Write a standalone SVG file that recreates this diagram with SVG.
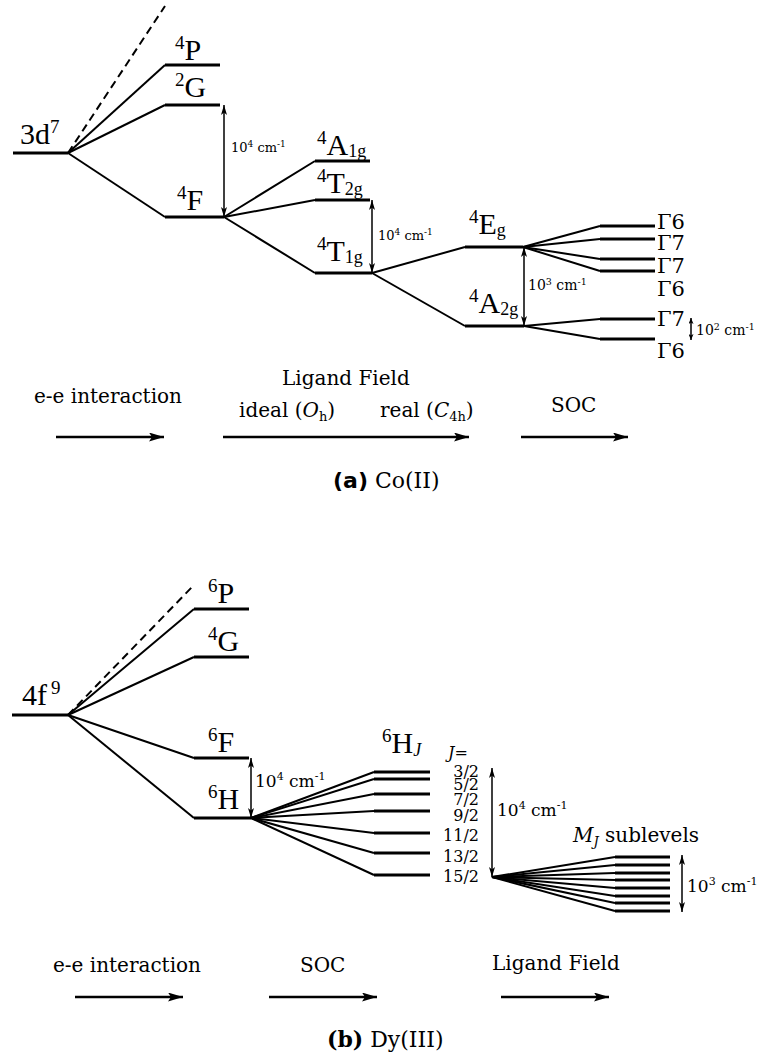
<svg xmlns="http://www.w3.org/2000/svg" width="757" height="1056" viewBox="0 0 757 1056">
<defs>
<style>
.lv{stroke:#000;stroke-width:3;fill:none}
.cn{stroke:#000;stroke-width:2;fill:none}
.ds{stroke-dasharray:8 5}
.ar{stroke:#000;stroke-width:1.5;fill:none;marker-start:url(#ah);marker-end:url(#ah)}
.ars{stroke:#000;stroke-width:1.5;fill:none;marker-start:url(#as);marker-end:url(#as)}
.pa{stroke:#000;stroke-width:2.5;fill:none;marker-end:url(#bh)}
.big{font-family:"Liberation Serif","Times New Roman",serif;font-size:30px;fill:#000}
.sm{font-family:"DejaVu Serif",serif;fill:#000}
.it{font-style:italic}
</style>
<marker id="ah" viewBox="0 0 10 6" refX="10" refY="3" markerWidth="10" markerHeight="6" orient="auto-start-reverse" markerUnits="userSpaceOnUse"><path d="M0,0 L10,3 L0,6 L2.5,3 Z" fill="#000"/></marker>
<marker id="as" viewBox="0 0 6 5" refX="6" refY="2.5" markerWidth="6" markerHeight="5" orient="auto-start-reverse" markerUnits="userSpaceOnUse"><path d="M0,0 L6,2.5 L0,5 L1.5,2.5 Z" fill="#000"/></marker>
<marker id="bh" viewBox="0 0 15 9" refX="15" refY="4.5" markerWidth="15" markerHeight="9" orient="auto" markerUnits="userSpaceOnUse"><path d="M0,0 L15,4.5 L0,9 L3,4.5 Z" fill="#000"/></marker>
</defs>
<rect width="757" height="1056" fill="#fff"/>

<!-- ===== (a) Co(II) ===== -->
<g id="connectors-a">
<line class="cn ds" x1="68" y1="153" x2="165" y2="6"/>
<line class="cn" x1="68" y1="153" x2="165" y2="65"/>
<line class="cn" x1="68" y1="153" x2="165" y2="105"/>
<line class="cn" x1="68" y1="153" x2="165" y2="217"/>
<line class="cn" x1="224" y1="217" x2="315" y2="161"/>
<line class="cn" x1="224" y1="217" x2="315" y2="200"/>
<line class="cn" x1="224" y1="217" x2="315" y2="273"/>
<line class="cn" x1="372" y1="273" x2="465" y2="247"/>
<line class="cn" x1="372" y1="273" x2="465" y2="326"/>
<line class="cn" x1="523" y1="247" x2="600" y2="226"/>
<line class="cn" x1="523" y1="247" x2="600" y2="239"/>
<line class="cn" x1="523" y1="247" x2="600" y2="259"/>
<line class="cn" x1="523" y1="247" x2="600" y2="271"/>
<line class="cn" x1="524" y1="326" x2="600" y2="319"/>
<line class="cn" x1="524" y1="326" x2="600" y2="339"/>
<line class="ar" x1="224" y1="105" x2="224" y2="217"/>
<line class="ar" x1="372" y1="200" x2="372" y2="273"/>
<line class="ar" x1="524" y1="247" x2="524" y2="326"/>
<line class="ars" x1="691" y1="318" x2="691" y2="340"/>
<line class="pa" x1="56" y1="437" x2="164" y2="437"/>
<line class="pa" x1="223" y1="437" x2="469" y2="437"/>
<line class="pa" x1="521" y1="437" x2="628" y2="437"/>
</g>

<g id="n-3d7"><line class="lv" x1="13" y1="153" x2="68" y2="153"/><text class="big" x="20" y="144">3d<tspan font-size="19" dy="-11">7</tspan></text></g>
<g id="n-4P"><line class="lv" x1="165" y1="65" x2="220" y2="65"/><text class="big" x="175" y="60"><tspan font-size="19" dy="-11">4</tspan><tspan dy="11">P</tspan></text></g>
<g id="n-2G"><line class="lv" x1="165" y1="105" x2="220" y2="105"/><text class="big" x="175" y="97"><tspan font-size="19" dy="-11">2</tspan><tspan dy="11">G</tspan></text></g>
<g id="n-4F"><line class="lv" x1="165" y1="217" x2="224" y2="217"/><text class="big" x="177" y="210"><tspan font-size="19" dy="-11">4</tspan><tspan dy="11">F</tspan></text>
<text class="sm" x="231" y="152" font-size="13">10<tspan font-size="9" dy="-5">4</tspan><tspan dy="5"> cm</tspan><tspan font-size="9" dy="-5">-1</tspan></text></g>
<g id="n-4A1g"><line class="lv" x1="315" y1="161" x2="370" y2="161"/><text class="big" x="317" y="155"><tspan font-size="19" dy="-11">4</tspan><tspan dy="11">A</tspan><tspan font-size="18" dy="2">1g</tspan></text></g>
<g id="n-4T2g"><line class="lv" x1="315" y1="200" x2="370" y2="200"/><text class="big" x="317" y="193"><tspan font-size="19" dy="-11">4</tspan><tspan dy="11">T</tspan><tspan font-size="18" dy="2">2g</tspan></text></g>
<g id="n-4T1g"><line class="lv" x1="315" y1="273" x2="372" y2="273"/><text class="big" x="317" y="261"><tspan font-size="19" dy="-11">4</tspan><tspan dy="11">T</tspan><tspan font-size="18" dy="2">1g</tspan></text>
<text class="sm" x="378" y="240" font-size="13">10<tspan font-size="9" dy="-5">4</tspan><tspan dy="5"> cm</tspan><tspan font-size="9" dy="-5">-1</tspan></text></g>
<g id="n-4Eg"><line class="lv" x1="465" y1="247" x2="523" y2="247"/><text class="big" x="469" y="234"><tspan font-size="19" dy="-11">4</tspan><tspan dy="11">E</tspan><tspan font-size="18" dy="2">g</tspan></text>
<text class="sm" x="528" y="290" font-size="14">10<tspan font-size="9.5" dy="-5">3</tspan><tspan dy="5"> cm</tspan><tspan font-size="9.5" dy="-5">-1</tspan></text></g>
<g id="n-4A2g"><line class="lv" x1="465" y1="326" x2="524" y2="326"/><text class="big" x="469" y="313"><tspan font-size="19" dy="-11">4</tspan><tspan dy="11">A</tspan><tspan font-size="18" dy="2">2g</tspan></text></g>
<g id="n-G6a"><line class="lv" x1="600" y1="226" x2="655" y2="226"/><text class="sm" x="657" y="229" font-size="21">Γ6</text></g>
<g id="n-G7a"><line class="lv" x1="600" y1="239" x2="655" y2="239"/><text class="sm" x="657" y="250" font-size="21">Γ7</text></g>
<g id="n-G7b"><line class="lv" x1="600" y1="259" x2="655" y2="259"/><text class="sm" x="657" y="273" font-size="21">Γ7</text></g>
<g id="n-G6b"><line class="lv" x1="600" y1="271" x2="655" y2="271"/><text class="sm" x="657" y="296" font-size="21">Γ6</text></g>
<g id="n-G7c"><line class="lv" x1="600" y1="319" x2="655" y2="319"/><text class="sm" x="657" y="326" font-size="21">Γ7</text>
<text class="sm" x="696" y="335" font-size="14">10<tspan font-size="9.5" dy="-5">2</tspan><tspan dy="5"> cm</tspan><tspan font-size="9.5" dy="-5">-1</tspan></text></g>
<g id="n-G6c"><line class="lv" x1="600" y1="339" x2="655" y2="339"/><text class="sm" x="657" y="358" font-size="21">Γ6</text></g>

<g id="labels-a" class="sm" font-size="20">
<text class="sm" x="34" y="403">e-e interaction</text>
<text class="sm" x="282" y="385">Ligand Field</text>
<text class="sm" x="239" y="417">ideal (<tspan class="it">O</tspan><tspan font-size="13" dy="4">h</tspan><tspan dy="-4">)</tspan></text>
<text class="sm" x="380" y="417">real (<tspan class="it">C</tspan><tspan font-size="13" dy="4">4h</tspan><tspan dy="-4">)</tspan></text>
<text class="sm" x="551" y="412">SOC</text>
<text class="sm" x="333" y="488" font-size="22"><tspan font-family="DejaVu Sans,sans-serif" font-weight="bold">(a)</tspan> Co(II)</text>
</g>

<!-- ===== (b) Dy(III) ===== -->
<g id="connectors-b">
<line class="cn ds" x1="68" y1="715" x2="193" y2="586"/>
<line class="cn" x1="68" y1="715" x2="194" y2="609"/>
<line class="cn" x1="68" y1="715" x2="194" y2="657"/>
<line class="cn" x1="68" y1="715" x2="194" y2="758"/>
<line class="cn" x1="68" y1="715" x2="194" y2="818"/>
<line class="cn" x1="251" y1="818" x2="374" y2="772"/>
<line class="cn" x1="251" y1="818" x2="374" y2="779"/>
<line class="cn" x1="251" y1="818" x2="374" y2="794"/>
<line class="cn" x1="251" y1="818" x2="374" y2="811"/>
<line class="cn" x1="251" y1="818" x2="374" y2="833"/>
<line class="cn" x1="251" y1="818" x2="374" y2="853"/>
<line class="cn" x1="251" y1="818" x2="374" y2="875"/>
<line class="cn" x1="492" y1="877" x2="615" y2="857"/>
<line class="cn" x1="492" y1="877" x2="615" y2="865"/>
<line class="cn" x1="492" y1="877" x2="615" y2="873"/>
<line class="cn" x1="492" y1="877" x2="615" y2="880"/>
<line class="cn" x1="492" y1="877" x2="615" y2="888"/>
<line class="cn" x1="492" y1="877" x2="615" y2="896"/>
<line class="cn" x1="492" y1="877" x2="615" y2="903"/>
<line class="cn" x1="492" y1="877" x2="615" y2="911"/>
<line class="ar" x1="251" y1="758" x2="251" y2="818"/>
<line class="ar" x1="492" y1="768" x2="492" y2="877"/>
<line class="ar" x1="682" y1="855" x2="682" y2="912"/>
<line class="pa" x1="75" y1="997" x2="183" y2="997"/>
<line class="pa" x1="269" y1="997" x2="377" y2="997"/>
<line class="pa" x1="501" y1="997" x2="609" y2="997"/>
</g>

<g id="n-4f9"><line class="lv" x1="12" y1="715" x2="68" y2="715"/><text class="big" x="22" y="705">4f<tspan font-size="19" dx="4" dy="-11">9</tspan></text></g>
<g id="n-6P"><line class="lv" x1="194" y1="609" x2="249" y2="609"/><text class="big" x="208" y="603"><tspan font-size="19" dy="-11">6</tspan><tspan dy="11">P</tspan></text></g>
<g id="n-4G"><line class="lv" x1="194" y1="657" x2="249" y2="657"/><text class="big" x="208" y="651"><tspan font-size="19" dy="-11">4</tspan><tspan dy="11">G</tspan></text></g>
<g id="n-6F"><line class="lv" x1="194" y1="758" x2="249" y2="758"/><text class="big" x="208" y="752"><tspan font-size="19" dy="-11">6</tspan><tspan dy="11">F</tspan></text></g>
<g id="n-6H"><line class="lv" x1="194" y1="818" x2="251" y2="818"/><text class="big" x="208" y="809"><tspan font-size="19" dy="-11">6</tspan><tspan dy="11">H</tspan></text>
<text class="sm" x="255" y="787" font-size="17">10<tspan font-size="11" dy="-7">4</tspan><tspan dy="7"> cm</tspan><tspan font-size="11" dy="-7">-1</tspan></text></g>
<g id="n-6HJ">
<text class="big" x="382" y="753"><tspan font-size="19" dy="-11">6</tspan><tspan dy="11">H</tspan><tspan font-size="18" dy="3" font-style="italic">J</tspan></text>
<text class="sm it" x="448" y="758" font-size="16">J<tspan font-style="normal">=</tspan></text>
<line class="lv" x1="374" y1="772" x2="430" y2="772"/>
<line class="lv" x1="374" y1="779" x2="430" y2="779"/>
<line class="lv" x1="374" y1="794" x2="430" y2="794"/>
<line class="lv" x1="374" y1="811" x2="430" y2="811"/>
<line class="lv" x1="374" y1="833" x2="430" y2="833"/>
<line class="lv" x1="374" y1="853" x2="430" y2="853"/>
<line class="lv" x1="374" y1="875" x2="430" y2="875"/>
<g class="sm" font-size="16" text-anchor="end">
<text class="sm" x="479" y="777">3/2</text>
<text class="sm" x="479" y="790">5/2</text>
<text class="sm" x="479" y="805">7/2</text>
<text class="sm" x="479" y="821">9/2</text>
<text class="sm" x="479" y="841">11/2</text>
<text class="sm" x="479" y="862">13/2</text>
<text class="sm" x="479" y="882">15/2</text>
</g>
<text class="sm" x="497" y="816" font-size="17">10<tspan font-size="11" dy="-7">4</tspan><tspan dy="7"> cm</tspan><tspan font-size="11" dy="-7">-1</tspan></text>
</g>
<g id="n-MJ">
<text class="sm" x="573" y="842" font-size="20"><tspan font-style="italic">M</tspan><tspan font-style="italic" font-size="13" dy="4">J</tspan><tspan dy="-4"> sublevels</tspan></text>
<line class="lv" x1="615" y1="857" x2="670" y2="857"/>
<line class="lv" x1="615" y1="865" x2="670" y2="865"/>
<line class="lv" x1="615" y1="873" x2="670" y2="873"/>
<line class="lv" x1="615" y1="880" x2="670" y2="880"/>
<line class="lv" x1="615" y1="888" x2="670" y2="888"/>
<line class="lv" x1="615" y1="896" x2="670" y2="896"/>
<line class="lv" x1="615" y1="903" x2="670" y2="903"/>
<line class="lv" x1="615" y1="911" x2="670" y2="911"/>
<text class="sm" x="687" y="892" font-size="17">10<tspan font-size="11" dy="-7">3</tspan><tspan dy="7"> cm</tspan><tspan font-size="11" dy="-7">-1</tspan></text>
</g>

<g id="labels-b" class="sm" font-size="20">
<text class="sm" x="53" y="972">e-e interaction</text>
<text class="sm" x="300" y="972">SOC</text>
<text class="sm" x="492" y="970">Ligand Field</text>
<text class="sm" x="327" y="1047" font-size="22"><tspan font-weight="bold">(b)</tspan> Dy(III)</text>
</g>
</svg>
